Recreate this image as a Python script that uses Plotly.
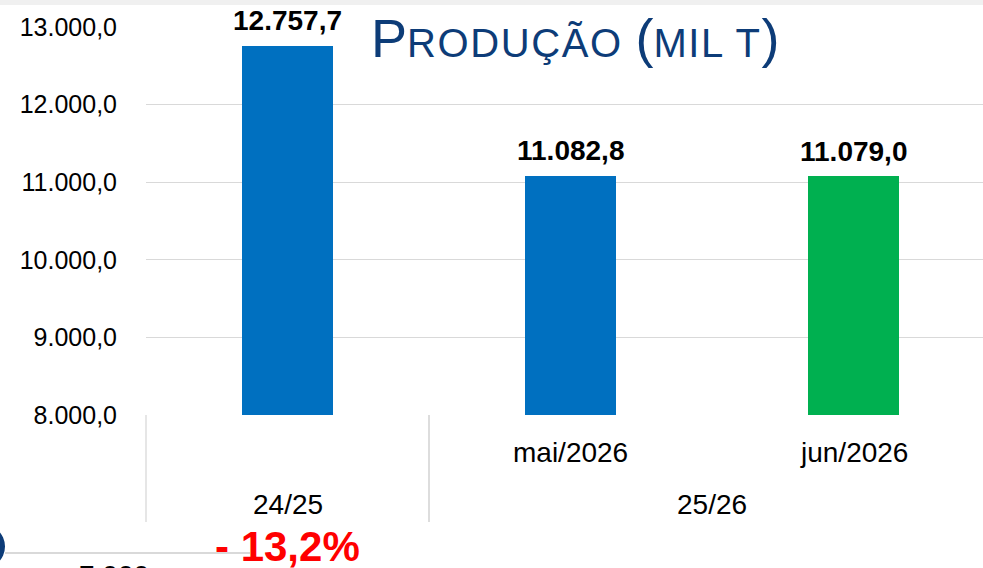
import plotly.graph_objects as go

# Data
groups = ["24/25", "25/26", "25/26"]
months = [" ", "mai/2026", "jun/2026"]
values = [12757.7, 11082.8, 11079.0]
colors = ["#0070C0", "#0070C0", "#00B050"]
y_ticks = [8000, 9000, 10000, 11000, 12000, 13000]
variation_text = "- 13,2%"
cut_text = "7.000"

FONT = "Liberation Sans, Arial, sans-serif"

def fmt_br(v):
    s = f"{v:,.1f}"
    return s.replace(",", "X").replace(".", ",").replace("X", ".")

fig = go.Figure()
fig.add_trace(go.Bar(
    x=[groups, months],
    y=values,
    marker=dict(color=colors, line=dict(width=0)),
    width=0.32,
    hoverinfo="skip",
))

W, H = 983, 568
L, T, B = 146, 27, 153
plot_w = W - L
plot_h = H - T - B
cat_px = 283.0
x_hi = -0.5 + plot_w / cat_px

def px_x(p):
    return (p - L) / plot_w

def px_y(p):
    return (H - B - p) / plot_h

def cat_paper(pos):
    # category index position -> paper x
    return (pos + 0.5) * cat_px / plot_w

annotations = []
for i, v in enumerate(values):
    annotations.append(dict(
        x=cat_paper(i), y=v, xref="paper", yref="y",
        text=f"<b>{fmt_br(v)}</b>", showarrow=False,
        xanchor="center", yanchor="middle", yshift=25,
        font=dict(family=FONT, size=28, color="#000000"),
    ))

# category labels (inner level)
for i, m in enumerate(months):
    if m.strip():
        annotations.append(dict(
            x=cat_paper(i), y=px_y(452), xref="paper", yref="paper",
            text=m, showarrow=False, xanchor="center", yanchor="middle",
            font=dict(family=FONT, size=28, color="#000000"),
        ))

# group labels (outer level) and dividers
shapes = []
spans = []
start = 0
for i in range(1, len(groups) + 1):
    if i == len(groups) or groups[i] != groups[start]:
        spans.append((groups[start], start, i - 1))
        start = i
for g, a, b in spans:
    annotations.append(dict(
        x=cat_paper((a + b) / 2), y=px_y(504), xref="paper", yref="paper",
        text=g, showarrow=False, xanchor="center", yanchor="middle",
        font=dict(family=FONT, size=28, color="#000000"),
    ))
    for edge in (a - 0.5, b + 0.5):
        shapes.append(dict(
            type="line", xref="paper", yref="paper",
            x0=cat_paper(edge), x1=cat_paper(edge), y0=px_y(415), y1=px_y(522),
            line=dict(color="#D9D9D9", width=1.3),
        ))

# title with small caps look
big, small = 54, 40
ls = "letter-spacing:1.6px;"
title_html = (f"<span style='font-size:{big}px'>P</span>"
              f"<span style='font-size:{small}px;{ls}'>RODUÇÃO </span>"
              f"<span style='font-size:{big}px'>(</span>"
              f"<span style='font-size:{small}px;{ls}'>MIL T</span>"
              f"<span style='font-size:{big}px'>)</span>")
annotations.append(dict(
    x=px_x(575), y=px_y(38), xref="paper", yref="paper",
    text=title_html, showarrow=False, xanchor="center", yanchor="middle",
    font=dict(family=FONT, size=big, color="#0d3c78"),
))
annotations.append(dict(
    x=px_x(287), y=px_y(546), xref="paper", yref="paper",
    text=f"<b>{variation_text}</b>", showarrow=False, xanchor="center", yanchor="middle",
    font=dict(family=FONT, size=42, color="#FF0000"),
))
annotations.append(dict(
    x=px_x(114), y=px_y(558), xref="paper", yref="paper",
    text=cut_text, showarrow=False, xanchor="center", yanchor="top",
    font=dict(family=FONT, size=28, color="#000000"),
))

shapes += [
    dict(type="rect", xref="paper", yref="paper",
         x0=px_x(0), x1=px_x(W), y0=px_y(5), y1=px_y(0),
         fillcolor="#F0F0F0", line=dict(width=0), layer="below"),
    dict(type="line", xref="paper", yref="paper",
         x0=px_x(5), x1=px_x(250), y0=px_y(553), y1=px_y(553),
         line=dict(color="#D9D9D9", width=2), layer="below"),
    dict(type="circle", xref="paper", yref="paper",
         x0=px_x(-45), x1=px_x(5), y0=px_y(570), y1=px_y(523),
         fillcolor="#0d3c78", line=dict(width=0)),
]

fig.update_layout(
    width=W, height=H,
    margin=dict(l=L, r=0, t=T, b=B, pad=0),
    paper_bgcolor="white", plot_bgcolor="white",
    separators=",.",
    showlegend=False,
    bargap=0,
    font=dict(family=FONT, color="#000000"),
    xaxis=dict(
        type="multicategory",
        range=[-0.5, x_hi],
        showgrid=False, zeroline=False,
        showline=False, ticks="",
        showticklabels=False, showdividers=False,
    ),
    yaxis=dict(
        range=[8000, 13000],
        tickvals=y_ticks,
        tickformat=",.1f",
        showgrid=True, gridcolor="#D9D9D9", gridwidth=1,
        zeroline=False, showline=False,
        ticks="",
        ticklabelstandoff=28,
        tickfont=dict(family=FONT, size=25, color="#000000"),
    ),
    annotations=annotations,
    shapes=shapes,
)
fig.update_traces(cliponaxis=False)

fig.write_html(
    "out.html",
    config={"displayModeBar": False},
    post_script="document.body.style.margin='0';document.body.style.overflow='hidden';",
)
